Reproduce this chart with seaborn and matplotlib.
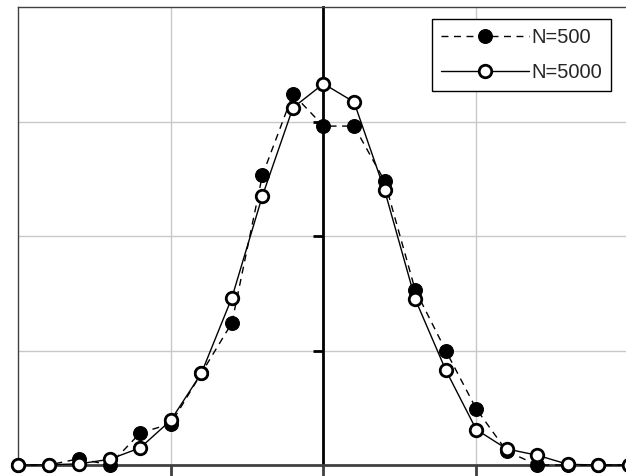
import matplotlib
matplotlib.use("Agg")
import matplotlib.pyplot as plt
import seaborn as sns
import numpy as np

sns.set_theme(style="white")
plt.rcParams['font.family'] = ['Liberation Sans', 'DejaVu Sans']

x_vals = [-2.0, -1.8, -1.6, -1.4, -1.2, -1.0, -0.8, -0.6, -0.4, -0.2, 0.0,
          0.2, 0.4, 0.6, 0.8, 1.0, 1.2, 1.4, 1.6, 1.8, 2.0]
n500 = [0.0, 0.0, 0.0055, 0.0, 0.028, 0.036, 0.080, 0.124, 0.253, 0.324, 0.296,
        0.296, 0.248, 0.153, 0.100, 0.049, 0.012, 0.0, 0.0, 0.0, 0.0]
n5000 = [0.0, 0.0002, 0.001, 0.005, 0.015, 0.039, 0.080, 0.146, 0.235, 0.312, 0.333,
         0.317, 0.240, 0.145, 0.083, 0.031, 0.014, 0.0085, 0.0006, 0.0, 0.0]
labels = ["N=500", "N=5000"]

fig = plt.figure(figsize=(6.26, 4.76), dpi=100)
ax = fig.add_axes([18/626, 11/476, 611/626, 458/476])

sns.lineplot(x=x_vals, y=n500, ax=ax, color='black', linestyle=(0, (5, 4)), lw=1,
             marker='o', markersize=10, markerfacecolor='black',
             markeredgecolor='black', label=labels[0], clip_on=False, zorder=3)
sns.lineplot(x=x_vals, y=n5000, ax=ax, color='black', linestyle='-', lw=1,
             marker='o', markersize=9, markerfacecolor='white',
             markeredgecolor='black', markeredgewidth=2, label=labels[1],
             clip_on=False, zorder=4)

ax.set_xlim(-2, 2)
ax.set_ylim(0, 0.4)
ax.set_xticks([-1, 0, 1])
ax.set_yticks([0.1, 0.2, 0.3])
ax.set_xticklabels([])
ax.set_yticklabels([])
ax.grid(True, color='#c8c8c8', lw=1)

for s in ['left', 'top']:
    ax.spines[s].set_color('#404040')
    ax.spines[s].set_linewidth(1)
ax.spines['bottom'].set_color('#404040')
ax.spines['bottom'].set_linewidth(2)
ax.spines['bottom'].set_zorder(2.5)
ax.spines['right'].set_position(('data', 0))
ax.spines['right'].set_color('black')
ax.spines['right'].set_linewidth(2)
ax.spines['right'].set_zorder(2.5)
ax.yaxis.tick_right()
ax.tick_params(axis='y', direction='in', length=7, width=2, color='black', right=True, left=False)
ax.tick_params(axis='x', direction='out', length=8, width=2, color='#404040', bottom=True)

leg = ax.legend(loc='upper right', bbox_to_anchor=(611/626, 1 - 19/476),
                bbox_transform=fig.transFigure, borderaxespad=0,
                fancybox=False, edgecolor='black', framealpha=1,
                fontsize=14.5, handlelength=4.4, handletextpad=0.1,
                labelspacing=0.8, borderpad=0.45)
leg.get_frame().set_linewidth(1)
ax.set_xlabel('')
ax.set_ylabel('')

fig.savefig('out.png', dpi=100)
